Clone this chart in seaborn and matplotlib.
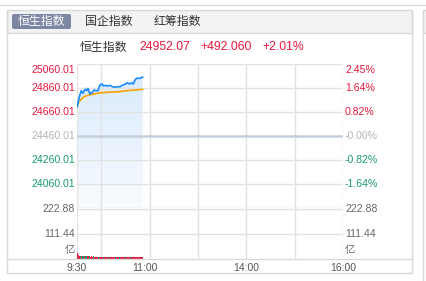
import numpy as np
import pandas as pd
import matplotlib
matplotlib.use("Agg")
import matplotlib.pyplot as plt
import matplotlib.transforms as mtrans
from matplotlib.patches import Rectangle, FancyBboxPatch
from matplotlib.lines import Line2D
import seaborn as sns

# ---------------- data ----------------
tabs = ["恒生指数", "国企指数", "红筹指数"]
title_name = "恒生指数"
title_last = "24952.07"
title_chg = "+492.060"
title_pct = "+2.01%"

prev_close = 24460.01
price_ticks = [25060.01, 24860.01, 24660.01, 24460.01, 24260.01, 24060.01]
pct_labels = ["2.45%", "1.64%", "0.82%", "-0.00%", "-0.82%", "-1.64%"]
vol_ticks = [222.88, 111.44]
vol_unit = "亿"

price_min = [0, 2.9, 5.3, 7.4, 9.9, 12, 13.6, 16.1, 17, 19, 21.1, 23.2, 26, 28.5,
             31.4, 32.6, 35.6, 37.6, 40.9, 44, 47.1, 50, 53.3, 56.7, 59.5, 62.4,
             64.8, 67.8, 69.8, 72, 74, 78.2, 81.5]
price_val = [24700, 24787, 24838, 24816, 24849, 24838, 24857, 24810, 24821, 24821,
             24843, 24838, 24838, 24885, 24893, 24877, 24882, 24877, 24882, 24871,
             24866, 24871, 24871, 24885, 24891, 24904, 24893, 24904, 24893, 24927,
             24941, 24941, 24952.07]

avg_min = [0, 2, 4.4, 8.7, 14.9, 21.1, 29.3, 37.6, 45.8, 53, 62, 70, 81.5]
avg_val = [24700, 24740, 24760, 24788, 24802, 24810, 24821, 24824, 24827, 24830,
           24838, 24842, 24849]

vols = [27, 17, 15, 14, 14, 13, 14, 13, 13, 12,
        13, 12, 12, 13, 12, 12, 11, 12, 12, 11,
        12, 11, 11, 12, 11, 11, 11, 10, 11, 11,
        10, 11, 10, 10, 11, 10, 10, 10, 11, 10,
        10, 10, 10, 11, 10, 10, 9, 10, 10, 10,
        9, 10, 10, 9, 10, 9, 10, 10, 9, 10,
        9, 9, 10, 9, 10, 9, 9, 9, 10, 9,
        9, 9, 10, 9, 9, 9, 9, 10, 9, 9,
        10, 11]
vol_dir = ("rrrrgrgggr" "gggrrgrrrr" "grrrrrgrrr" "rrgrrrrrrg" "rrrrrrrgrr"
           "rrgrrrrrrr" "grrrrrgrrr" "rrrrgrrrrr" "rr")

time_labels = ["9:30", "11:00", "14:00", "16:00"]
time_label_pos = [0, 84, 210, 330]
grid_minutes = [0, 30, 90, 150, 210, 270, 330]

# ---------------- style ----------------
sns.set_style("white")
plt.rcParams["font.family"] = ["Liberation Sans", "Noto Sans CJK SC", "DejaVu Sans"]
CJK = ["Noto Sans CJK SC", "DejaVu Sans"]

RED = "#e8173c"
GREEN = "#1a9a6e"
GRAY = "#b4b4b4"
GRID = "#e2e2e2"
BORDER = "#d9d9d9"

W, H = 426, 281
fig = plt.figure(figsize=(W / 100, H / 100), dpi=100)
fig.patch.set_facecolor("white")

def fx(x):
    return x / W

def fy(y):
    return 1 - y / H

# ---------------- outer frame / tabs ----------------
fig.add_artist(Line2D([0, 1], [fy(4.5), fy(4.5)], color=BORDER, lw=1))
fig.add_artist(Rectangle((fx(7), fy(33)), fx(412) - fx(7), fy(10) - fy(33),
                         facecolor="#f3f3f3", edgecolor=BORDER, lw=1))
fig.add_artist(Rectangle((fx(423), fy(33)), fx(430) - fx(423), fy(10) - fy(33),
                         facecolor="#f3f3f3", edgecolor=BORDER, lw=1))
fig.add_artist(Line2D([fx(7), fx(7)], [fy(10), fy(273)], color=BORDER, lw=1))
fig.add_artist(Line2D([fx(412), fx(412)], [fy(10), fy(273)], color=BORDER, lw=1))
fig.add_artist(Line2D([fx(423), fx(423)], [fy(10), fy(281)], color=BORDER, lw=1))
fig.add_artist(Line2D([fx(7), fx(412)], [fy(273), fy(273)], color=BORDER, lw=1))
fig.add_artist(FancyBboxPatch((fx(12), fy(29)), fx(71) - fx(12), fy(14) - fy(29),
                              boxstyle="round,pad=0,rounding_size=0.006",
                              facecolor="#7d87a3", edgecolor="none"))
tab_x = [41.5, 109, 177.5]
for i, (t, x) in enumerate(zip(tabs, tab_x)):
    fig.text(fx(x), fy(21.5), t, ha="center", va="center", fontsize=8.6,
             family=CJK, color="white" if i == 0 else "#333333")

# title row
fig.text(fx(80), fy(47), title_name, ha="left", va="center", fontsize=8.6,
         family=CJK, color="#333333")
fig.text(fx(139), fy(47), title_last, ha="left", va="center", fontsize=8.8, color=RED)
fig.text(fx(200), fy(47), title_chg, ha="left", va="center", fontsize=8.8, color=RED)
fig.text(fx(262), fy(47), title_pct, ha="left", va="center", fontsize=8.8, color=RED)

# ---------------- axes ----------------
L, R = 77, 343
ax = fig.add_axes([fx(L), fy(208), fx(R) - fx(L), fy(64) - fy(208)])
axv = fig.add_axes([fx(L), fy(259), fx(R) - fx(L), fy(208) - fy(259)])
for a in (ax, axv):
    a.set_xlim(0, 330)
    a.set_facecolor("none")
    for s in a.spines.values():
        s.set_visible(False)
    a.set_xticks([])
    a.set_yticks([])
    for m in grid_minutes:
        a.axvline(m, color=GRID, lw=1, zorder=1.5)

ax.set_ylim(prev_close - 600, prev_close + 600)
for v in price_ticks:
    if v == prev_close:
        ax.axhline(v, color="#c6cfdb", lw=1.8, zorder=2)
    else:
        ax.axhline(v, color=GRID, lw=1, zorder=1.5)
ax.axhline(prev_close - 600, color=GRID, lw=1, zorder=1.5)

# gradient area under price
dfp = pd.DataFrame({"minute": price_min, "price": price_val})
dfa = pd.DataFrame({"minute": avg_min, "avg": avg_val})
poly = ax.fill_between(dfp["minute"], dfp["price"], prev_close - 600,
                       facecolor="none", edgecolor="none")
grad = np.linspace(0, 1, 256).reshape(-1, 1)
top_c = np.array([218, 235, 252]) / 255
bot_c = np.array([248, 251, 255]) / 255
img = top_c[None, None, :] * (1 - grad[:, :, None]) + bot_c[None, None, :] * grad[:, :, None]
im = ax.imshow(img, extent=[0, max(price_min), prev_close - 600, max(price_val)],
               aspect="auto", origin="upper", zorder=1)
im.set_clip_path(poly.get_paths()[0], transform=ax.transData)

sns.lineplot(data=dfa, x="minute", y="avg", ax=ax, color="#f5a200", lw=1.2, zorder=3)
sns.lineplot(data=dfp, x="minute", y="price", ax=ax, color="#1a8cff", lw=1.2, zorder=4)
ax.set_xlabel("")
ax.set_ylabel("")
ax.set_ylim(prev_close - 600, prev_close + 600)
ax.set_xlim(0, 330)

# price labels
off_top = mtrans.ScaledTranslation(0, -6 / 100, fig.dpi_scale_trans)
for v, p in zip(price_ticks, pct_labels):
    if v > prev_close:
        c = RED
    elif v < prev_close:
        c = GREEN
    else:
        c = GRAY
    tr = mtrans.blended_transform_factory(ax.transAxes, ax.transData)
    if v == max(price_ticks):
        tr = tr + off_top
    ax.text(-2 / 266, v, f"{v:.2f}", ha="right", va="center", fontsize=7.6,
            color=c, transform=tr)
    ax.text(1 + 2 / 266, v, p, ha="left", va="center", fontsize=7.6,
            color=c, transform=tr)

# volume
vtop = vol_ticks[0] * 51 / 50
axv.set_ylim(0, vtop)
for v in vol_ticks:
    axv.axhline(v, color=GRID, lw=1, zorder=1.5)
colors = [RED if d == "r" else GREEN for d in vol_dir]
axv.bar(np.arange(len(vols)) + 0.5, vols, width=1.0, color=colors, lw=0, zorder=2)
trv = mtrans.blended_transform_factory(axv.transAxes, axv.transData)
for v in vol_ticks:
    axv.text(-2 / 266, v, f"{v:.2f}", ha="right", va="center", fontsize=7.6,
             color="#666666", transform=trv)
    axv.text(1 + 2 / 266, v, f"{v:.2f}", ha="left", va="center", fontsize=7.6,
             color="#666666", transform=trv)
axv.text(-2 / 266, 0.18, vol_unit, ha="right", va="center", fontsize=7.6,
         family=CJK, color="#666666", transform=axv.transAxes)
axv.text(1 + 2 / 266, 0.18, vol_unit, ha="left", va="center", fontsize=7.6,
         family=CJK, color="#666666", transform=axv.transAxes)

# bottom line and time labels
fig.add_artist(Line2D([fx(7), fx(412)], [fy(259), fy(259)], color=BORDER, lw=1))
trx = mtrans.blended_transform_factory(axv.transData, fig.transFigure)
for lab, m in zip(time_labels, time_label_pos):
    axv.text(m, fy(268), lab, ha="center", va="center", fontsize=7.5,
             color="#555555", transform=trx)

fig.savefig("out.png", dpi=100)
